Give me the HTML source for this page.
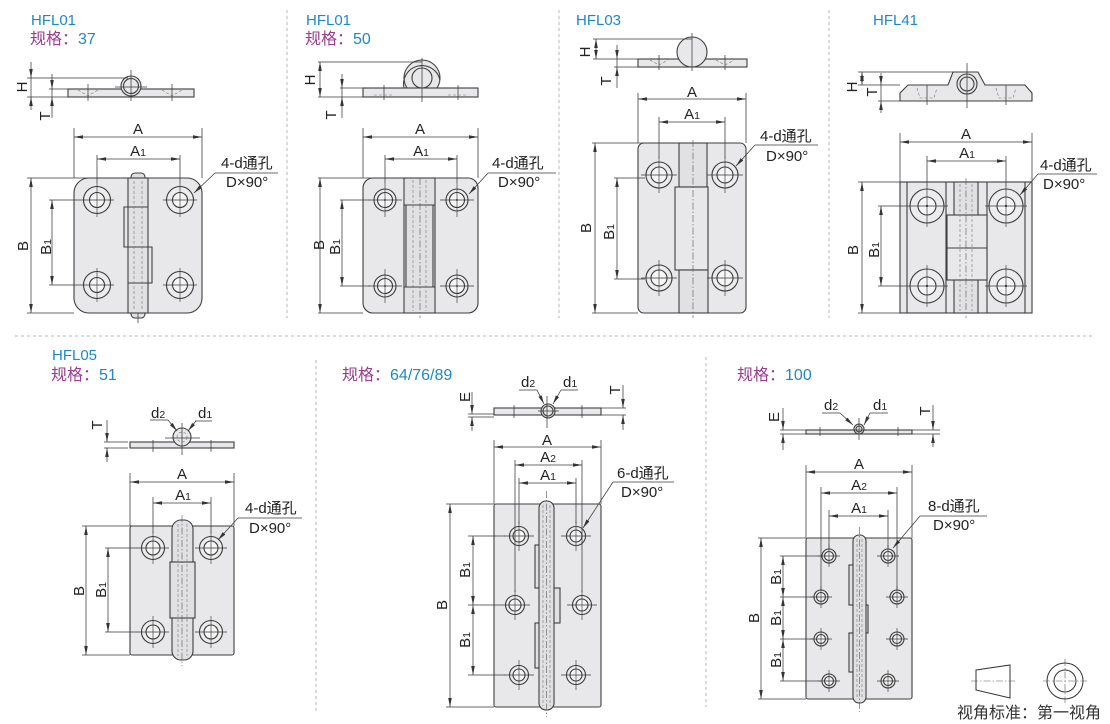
<!DOCTYPE html>
<html><head><meta charset="utf-8"><style>
html,body{margin:0;padding:0;background:#fff;}
svg{display:block}
text{font-family:"Liberation Sans","Noto Sans CJK SC",sans-serif;fill:#222;}
.o{fill:#e8e8ea;stroke:#3e3e3e;stroke-width:1.1}
.k{fill:#e1e1e4;stroke:#3e3e3e;stroke-width:1.1}
.s{fill:none;stroke:#3e3e3e;stroke-width:1.1}
.l{fill:none;stroke:#3a3a3a;stroke-width:.75}
.d{fill:none;stroke:#3a3a3a;stroke-width:.75;marker-start:url(#a);marker-end:url(#a)}
.e{fill:none;stroke:#3a3a3a;stroke-width:.75;marker-end:url(#a)}
.c{fill:none;stroke:#555;stroke-width:.6;stroke-dasharray:7 2 1.5 2}
.ds{fill:none;stroke:#777;stroke-width:.6;stroke-dasharray:3 2}
.dv{fill:none;stroke:#b5b5b5;stroke-width:1;stroke-dasharray:3 3}
.hf{fill:#ececee;stroke:#3a3a3a;stroke-width:1.1}
.hi{fill:#f6f6f7;stroke:#3a3a3a;stroke-width:1.1}
.cl{stroke:#3a3a3a;stroke-width:.65;fill:none}
.t{font-size:15px}
.sb{font-size:10.5px}
.blue{fill:#1e88c7}
.pur{fill:#9a3b8f}
</style></head><body>
<svg width="1110" height="724" viewBox="0 0 1110 724" xmlns="http://www.w3.org/2000/svg">
<defs>
<marker id="a" viewBox="0 0 10 4" refX="10" refY="2" markerWidth="9" markerHeight="3.6" markerUnits="userSpaceOnUse" orient="auto-start-reverse"><path d="M0,0L10,2L0,4z" fill="#333"/></marker>
<g id="h1"><circle r="13.5" class="hf"/><circle r="7.5" class="hi"/><path d="M-17,0H17M0,-17V17" class="cl"/></g>
<g id="h2"><circle r="11" class="hf"/><circle r="7.5" class="hi"/><circle r="1" fill="#444"/><path d="M-17,0H17M0,-17V17" class="cl"/></g>
<g id="h3"><circle r="13" class="hf"/><circle r="8" class="hi"/><path d="M-18,0H18M0,-18V18" class="cl"/></g>
<g id="h4"><circle r="17" class="hf"/><circle r="9" class="hi"/><circle r="1.2" fill="#444"/><path d="M-21,0H21M0,-21V21" class="cl"/></g>
<g id="h5"><circle r="11.5" class="hf"/><circle r="7" class="hi"/><path d="M-16,0H16M0,-16V16" class="cl"/></g>
<g id="h6"><circle r="9.5" class="hf"/><circle r="6" class="hi"/><path d="M-15,0H15M0,-15V15" class="cl"/></g>
<g id="h7"><circle r="7" class="hf"/><circle r="4.5" class="hi"/><path d="M-11,0H11M0,-11V11" class="cl"/></g>
</defs>

<!-- dividers -->
<path d="M287,10V318M559,10V318M829,10V318M15,336H1095M316,360V712M706,357V707" class="dv"/>

<!-- ===== Panel 1 ===== -->
<text x="31" y="25" class="blue" font-size="15">HFL01</text>
<text x="30" y="44" font-size="16"><tspan class="pur">规格：</tspan><tspan class="blue">37</tspan></text>
<!-- side -->
<rect x="68" y="89" width="126" height="8" class="o"/>
<circle cx="131" cy="86" r="10" class="o"/>
<circle cx="131" cy="86" r="7.5" class="s"/>
<path d="M115,87H147M131,70V101M88,84V101M172,84V101" class="l"/>
<path d="M78,90L88,96L98,90M162,90L172,96L182,90" class="ds"/>
<path d="M27,78H128M27,97H68M49,89H68" class="l"/>
<path d="M31,62V78" class="e"/><path d="M31,110V97" class="e"/><path d="M31,78V97" class="l"/>
<path d="M52,74V89" class="e"/><path d="M52,118V97" class="e"/><path d="M52,89V97" class="l"/>
<text transform="translate(27,87) rotate(-90)" text-anchor="middle" class="t">H</text>
<text transform="translate(50,116) rotate(-90)" text-anchor="middle" class="t">T</text>
<!-- front -->
<rect x="74" y="178" width="128" height="135" rx="15" class="o"/>
<rect x="131" y="173" width="14" height="10" rx="4" class="k"/>
<rect x="131" y="308" width="14" height="10" rx="4" class="k"/>
<rect x="128" y="178" width="20" height="135" class="k"/>
<path d="M128,207H124V247H128M148,247H152V283H148M128,207H148M128,247H148M128,283H148" class="s"/>
<path d="M134,181V310M142,181V310" class="ds"/>
<path d="M138,313V323" class="l"/>
<use href="#h1" x="97" y="200"/><use href="#h1" x="180" y="200"/>
<use href="#h1" x="97" y="285"/><use href="#h1" x="180" y="285"/>
<path d="M74,128V178M202,128V178M97,155V183M180,155V183M27,178H128M27,313H74M49,200H80M49,285H80" class="l"/>
<path d="M74,137H202" class="d"/><path d="M97,159H180" class="d"/>
<path d="M31,178V313" class="d"/><path d="M52,200V285" class="d"/>
<text x="138" y="134" text-anchor="middle" class="t">A</text>
<text x="138" y="156" text-anchor="middle" class="t">A<tspan class="sb">1</tspan></text>
<text transform="translate(28,246) rotate(-90)" text-anchor="middle" class="t">B</text>
<text transform="translate(51,247) rotate(-90)" text-anchor="middle" class="t">B<tspan class="sb">1</tspan></text>
<text x="221" y="168" class="t">4-d通孔</text>
<text x="226" y="187" class="t">D×90°</text>
<path d="M215,173H278" class="l"/><path d="M215,173L194,193" class="e"/>

<!-- ===== Panel 2 ===== -->
<text x="306" y="25" class="blue" font-size="15">HFL01</text>
<text x="305" y="44" font-size="16"><tspan class="pur">规格：</tspan><tspan class="blue">50</tspan></text>
<circle cx="422" cy="78" r="18" class="o"/>
<rect x="363" y="88" width="115" height="9" class="o"/>
<path d="M404,88A18,18 0 0 1 440,80" class="s"/>
<circle cx="422" cy="78" r="10" class="o"/>
<path d="M422,58V102M384,85V100M458,85V100" class="l"/>
<path d="M374,95H394M448,95H468" class="ds"/>
<path d="M318,62H422M318,97H363M340,88H363" class="l"/>
<path d="M320,62V97" class="d"/>
<path d="M342,74V88" class="e"/><path d="M342,118V97" class="e"/><path d="M342,88V97" class="l"/>
<text transform="translate(315,80) rotate(-90)" text-anchor="middle" class="t">H</text>
<text transform="translate(336,115) rotate(-90)" text-anchor="middle" class="t">T</text>
<rect x="363" y="178" width="115" height="135" rx="10" class="o"/>
<rect x="404" y="178" width="31" height="135" class="k"/>
<path d="M404,205H435M404,287H435M406,205V287M433,205V287" class="s"/>
<path d="M413,180V311M426,180V311" class="ds"/>
<path d="M420,178V318" class="c"/>
<use href="#h2" x="385" y="200"/><use href="#h2" x="457" y="200"/>
<use href="#h2" x="385" y="286"/><use href="#h2" x="457" y="286"/>
<path d="M363,128V178M478,128V178M385,155V183M457,155V183M318,178H404M318,313H363M340,200H370M340,286H370" class="l"/>
<path d="M363,137H478" class="d"/><path d="M385,159H457" class="d"/>
<path d="M320,178V313" class="d"/><path d="M342,200V286" class="d"/>
<text x="420" y="134" text-anchor="middle" class="t">A</text>
<text x="421" y="156" text-anchor="middle" class="t">A<tspan class="sb">1</tspan></text>
<text transform="translate(324,245) rotate(-90)" text-anchor="middle" class="t">B</text>
<text transform="translate(340,247) rotate(-90)" text-anchor="middle" class="t">B<tspan class="sb">1</tspan></text>
<text x="492" y="168" class="t">4-d通孔</text>
<text x="498" y="187" class="t">D×90°</text>
<path d="M488,173H556" class="l"/><path d="M488,173L469,194" class="e"/>

<!-- ===== Panel 3 ===== -->
<text x="576" y="25" class="blue" font-size="15">HFL03</text>
<rect x="638" y="59" width="109" height="8" class="o"/>
<circle cx="692" cy="52" r="15" class="o"/>
<path d="M692,33V71M659,55V70M725,55V70" class="l"/>
<path d="M650,60L659,65L668,60M716,60L725,65L734,60" class="ds"/>
<path d="M593,39H692M593,59H638M614,67H638" class="l"/>
<path d="M596,39V59" class="d"/>
<path d="M617,45V59" class="e"/><path d="M617,88V67" class="e"/><path d="M617,59V67" class="l"/>
<text transform="translate(590,52) rotate(-90)" text-anchor="middle" class="t">H</text>
<text transform="translate(611,81) rotate(-90)" text-anchor="middle" class="t">T</text>
<rect x="638" y="143" width="108" height="170" rx="6" class="o"/>
<rect x="679" y="143" width="28" height="44" class="k"/>
<rect x="675" y="187" width="33" height="83" class="o"/>
<rect x="679" y="270" width="29" height="43" class="k"/>
<path d="M693,140V318" class="c"/>
<use href="#h3" x="659" y="175"/><use href="#h3" x="725" y="175"/>
<use href="#h3" x="659" y="278"/><use href="#h3" x="725" y="278"/>
<path d="M638,93V143M746,93V143M659,117V158M725,117V158M592,143H679M592,313H638M614,178H645M614,279H645" class="l"/>
<path d="M638,99H746" class="d"/><path d="M659,122H725" class="d"/>
<path d="M595,143V313" class="d"/><path d="M617,178V279" class="d"/>
<text x="692" y="97" text-anchor="middle" class="t">A</text>
<text x="692" y="119" text-anchor="middle" class="t">A<tspan class="sb">1</tspan></text>
<text transform="translate(591,228) rotate(-90)" text-anchor="middle" class="t">B</text>
<text transform="translate(614,232) rotate(-90)" text-anchor="middle" class="t">B<tspan class="sb">1</tspan></text>
<text x="760" y="141" class="t">4-d通孔</text>
<text x="766" y="161" class="t">D×90°</text>
<path d="M755,145H818" class="l"/><path d="M755,145L736,166" class="e"/>

<!-- ===== Panel 4 ===== -->
<text x="873" y="25" class="blue" font-size="15">HFL41</text>
<polygon points="900,101 900,93 908,85 948,85 953,72 978,72 985,85 1025,85 1032,93 1032,101" class="o"/>
<circle cx="967" cy="84" r="10" class="o"/>
<circle cx="967" cy="84" r="7" class="s"/>
<path d="M967,63V108M927,85V105M1006,85V105" class="l"/>
<path d="M917,88L920,98H934L937,88M996,88L999,98H1013L1016,88" class="ds"/>
<path d="M858,72H955M858,85H900M878,101H900" class="l"/>
<path d="M862,72V85" class="d"/>
<path d="M881,73V85" class="e"/><path d="M881,113V101" class="e"/><path d="M881,85V101" class="l"/>
<text transform="translate(857,87) rotate(-90)" text-anchor="middle" class="t">H</text>
<text transform="translate(877,92) rotate(-90)" text-anchor="middle" class="t">T</text>
<rect x="900" y="182" width="132" height="131" class="o"/>
<path d="M907,182V313M946,182V313M987,182V313M1025,182V313" class="s"/>
<rect x="954" y="182" width="24" height="131" class="k"/>
<rect x="947" y="215" width="40" height="65" class="o"/>
<path d="M947,248H987" class="s"/>
<path d="M960,184V311M972,184V311" class="ds"/>
<path d="M966,178V318" class="c"/>
<use href="#h4" x="927" y="206"/><use href="#h4" x="1006" y="206"/>
<use href="#h4" x="927" y="286"/><use href="#h4" x="1006" y="286"/>
<path d="M900,133V182M1032,133V182M927,156V186M1006,156V186M858,182H954M858,313H900M878,206H906M878,286H906" class="l"/>
<path d="M900,142H1032" class="d"/><path d="M927,161H1006" class="d"/>
<path d="M862,182V313" class="d"/><path d="M881,206V286" class="d"/>
<text x="966" y="139" text-anchor="middle" class="t">A</text>
<text x="967" y="158" text-anchor="middle" class="t">A<tspan class="sb">1</tspan></text>
<text transform="translate(858,250) rotate(-90)" text-anchor="middle" class="t">B</text>
<text transform="translate(879,250) rotate(-90)" text-anchor="middle" class="t">B<tspan class="sb">1</tspan></text>
<text x="1040" y="170" class="t">4-d通孔</text>
<text x="1043" y="189" class="t">D×90°</text>
<path d="M1038,174H1097" class="l"/><path d="M1038,174L1020,195" class="e"/>

<!-- ===== Panel 5 ===== -->
<text x="52" y="360" class="blue" font-size="15">HFL05</text>
<text x="51" y="380" font-size="16"><tspan class="pur">规格：</tspan><tspan class="blue">51</tspan></text>
<rect x="130" y="442" width="104" height="6" class="o"/>
<circle cx="182" cy="437" r="9" class="o"/>
<circle cx="182" cy="437" r="5" class="ds"/>
<path d="M165,438H200M182,423V455M153,440V452M211,440V452" class="l"/>
<text x="151" y="418" class="t">d<tspan class="sb">2</tspan></text>
<text x="198" y="418" class="t">d<tspan class="sb">1</tspan></text>
<path d="M150,420H168" class="l"/><path d="M168,420L177,431" class="e"/>
<path d="M195,421H212" class="l"/><path d="M196,421L188,431" class="e"/>
<path d="M104,442H128M104,448H128" class="l"/>
<path d="M107,420V442" class="e"/><path d="M107,462V448" class="e"/>
<text transform="translate(102,425) rotate(-90)" text-anchor="middle" class="t">T</text>
<rect x="130" y="526" width="104" height="129" rx="2" class="o"/>
<rect x="172" y="520" width="21" height="140" rx="9" class="k"/>
<rect x="170" y="562" width="25" height="56" class="k"/>
<path d="M178,524V656M187,524V656" class="ds"/>
<path d="M182,515V666" class="c"/>
<use href="#h5" x="153" y="548"/><use href="#h5" x="211" y="548"/>
<use href="#h5" x="153" y="632"/><use href="#h5" x="211" y="632"/>
<path d="M130,473V526M234,473V526M153,497V533M211,497V533M82,526H172M82,655H130M105,548H138M105,632H138" class="l"/>
<path d="M130,482H234" class="d"/><path d="M153,503H211" class="d"/>
<path d="M86,526V655" class="d"/><path d="M108,548V632" class="d"/>
<text x="182" y="479" text-anchor="middle" class="t">A</text>
<text x="183" y="500" text-anchor="middle" class="t">A<tspan class="sb">1</tspan></text>
<text transform="translate(84,591) rotate(-90)" text-anchor="middle" class="t">B</text>
<text transform="translate(106,590) rotate(-90)" text-anchor="middle" class="t">B<tspan class="sb">1</tspan></text>
<text x="245" y="513" class="t">4-d通孔</text>
<text x="249" y="533" class="t">D×90°</text>
<path d="M238,518H302" class="l"/><path d="M238,518L218,540" class="e"/>

<!-- ===== Panel 6 ===== -->
<text x="342" y="380" font-size="16"><tspan class="pur">规格：</tspan><tspan class="blue">64/76/89</tspan></text>
<rect x="494" y="408" width="107" height="7" class="o"/>
<circle cx="548" cy="411" r="7" class="o"/>
<circle cx="548" cy="411" r="5" class="s"/>
<path d="M538,411H559M547,396V428M514,405V418M582,405V418" class="l"/>
<text x="521" y="387" class="t">d<tspan class="sb">2</tspan></text>
<text x="563" y="387" class="t">d<tspan class="sb">1</tspan></text>
<path d="M519,390H537" class="l"/><path d="M537,390L544,404" class="e"/>
<path d="M561,390H578" class="l"/><path d="M561,390L553,404" class="e"/>
<path d="M468,414H494M468,417H494" class="l"/>
<path d="M472,392V414" class="e"/><path d="M472,431V417" class="e"/>
<text transform="translate(470,397) rotate(-90)" text-anchor="middle" class="t">E</text>
<path d="M601,408H626M601,415H626" class="l"/>
<path d="M623,385V408" class="e"/><path d="M623,430V415" class="e"/>
<text transform="translate(620,390) rotate(-90)" text-anchor="middle" class="t">T</text>
<rect x="494" y="504" width="107" height="203" rx="2" class="o"/>
<rect x="535" y="545" width="8" height="43" class="k"/>
<rect x="535" y="623" width="8" height="45" class="k"/>
<rect x="551" y="588" width="9" height="35" class="k"/>
<rect x="539" y="501" width="15" height="209" rx="7" class="k"/>
<path d="M543,505V706M550,505V706" class="ds"/>
<path d="M546.5,491V717" class="c"/>
<use href="#h6" x="519" y="536"/><use href="#h6" x="576" y="536"/>
<use href="#h6" x="515" y="605"/><use href="#h6" x="582" y="605"/>
<use href="#h6" x="519" y="675"/><use href="#h6" x="576" y="675"/>
<path d="M494,440V504M601,440V504M515,460V592M582,460V592M519,478V524M576,478V524M446,504H494M446,707H494M468,536H505M468,605H500M468,675H505" class="l"/>
<path d="M494,447H601" class="d"/><path d="M515,465H582" class="d"/><path d="M519,483H576" class="d"/>
<path d="M450,504V707" class="d"/><path d="M473,536V605" class="d"/><path d="M473,605V675" class="d"/>
<text x="547" y="445" text-anchor="middle" class="t">A</text>
<text x="548" y="462" text-anchor="middle" class="t">A<tspan class="sb">2</tspan></text>
<text x="548" y="480" text-anchor="middle" class="t">A<tspan class="sb">1</tspan></text>
<text transform="translate(447,605) rotate(-90)" text-anchor="middle" class="t">B</text>
<text transform="translate(470,570) rotate(-90)" text-anchor="middle" class="t">B<tspan class="sb">1</tspan></text>
<text transform="translate(470,640) rotate(-90)" text-anchor="middle" class="t">B<tspan class="sb">1</tspan></text>
<text x="617" y="478" class="t">6-d通孔</text>
<text x="621" y="497" class="t">D×90°</text>
<path d="M613,482H674" class="l"/><path d="M613,482L583,528" class="e"/>

<!-- ===== Panel 7 ===== -->
<text x="737" y="380" font-size="16"><tspan class="pur">规格：</tspan><tspan class="blue">100</tspan></text>
<rect x="806" y="430" width="106" height="4" class="o"/>
<circle cx="859" cy="429" r="5" class="o"/>
<circle cx="859" cy="429" r="3" class="s"/>
<path d="M851,430H867M859,418V440M820,427V436M898,427V436" class="l"/>
<text x="824" y="410" class="t">d<tspan class="sb">2</tspan></text>
<text x="873" y="410" class="t">d<tspan class="sb">1</tspan></text>
<path d="M822,413H840" class="l"/><path d="M840,413L853,425" class="e"/>
<path d="M870,413H888" class="l"/><path d="M870,413L864,425" class="e"/>
<path d="M780,430H806M780,434H806" class="l"/>
<path d="M783,408V430" class="e"/><path d="M783,450V434" class="e"/>
<text transform="translate(779,417) rotate(-90)" text-anchor="middle" class="t">E</text>
<path d="M912,430H940M912,434H940" class="l"/>
<path d="M933,405V430" class="e"/><path d="M933,447V434" class="e"/>
<text transform="translate(930,411) rotate(-90)" text-anchor="middle" class="t">T</text>
<rect x="806" y="538" width="106" height="161" rx="2" class="o"/>
<rect x="849" y="565" width="6" height="40" class="k"/>
<rect x="849" y="633" width="6" height="39" class="k"/>
<rect x="863" y="605" width="5" height="28" class="k"/>
<rect x="853" y="535" width="13" height="168" rx="6" class="k"/>
<path d="M857,539V699M862,539V699" class="ds"/>
<path d="M859.5,527V712" class="c"/>
<use href="#h7" x="829" y="556"/><use href="#h7" x="888" y="556"/>
<use href="#h7" x="821" y="597"/><use href="#h7" x="897" y="597"/>
<use href="#h7" x="821" y="639"/><use href="#h7" x="897" y="639"/>
<use href="#h7" x="829" y="681"/><use href="#h7" x="888" y="681"/>
<path d="M806,465V538M912,465V538M821,487V590M897,487V590M829,510V549M888,510V549M758,538H806M758,699H806M780,556H822M780,597H814M780,639H814M780,681H822" class="l"/>
<path d="M806,472H912" class="d"/><path d="M821,493H897" class="d"/><path d="M829,516H888" class="d"/>
<path d="M761,538V699" class="d"/><path d="M783,556V597" class="d"/><path d="M783,597V639" class="d"/><path d="M783,639V681" class="d"/>
<text x="859" y="469" text-anchor="middle" class="t">A</text>
<text x="859" y="490" text-anchor="middle" class="t">A<tspan class="sb">2</tspan></text>
<text x="859" y="513" text-anchor="middle" class="t">A<tspan class="sb">1</tspan></text>
<text transform="translate(759,618) rotate(-90)" text-anchor="middle" class="t">B</text>
<text transform="translate(781,577) rotate(-90)" text-anchor="middle" class="t">B<tspan class="sb">1</tspan></text>
<text transform="translate(781,618) rotate(-90)" text-anchor="middle" class="t">B<tspan class="sb">1</tspan></text>
<text transform="translate(781,660) rotate(-90)" text-anchor="middle" class="t">B<tspan class="sb">1</tspan></text>
<text x="928" y="511" class="t">8-d通孔</text>
<text x="933" y="530" class="t">D×90°</text>
<path d="M920,516H987" class="l"/><path d="M920,516L893,548" class="e"/>

<!-- legend -->
<polygon points="976,670 1010,665 1010,698 976,690" fill="#fff" stroke="#333" stroke-width="1"/>
<path d="M971,681H1015" class="c"/>
<circle cx="1065" cy="681" r="18" fill="#fff" stroke="#333" stroke-width="1"/>
<circle cx="1065" cy="681" r="11" fill="none" stroke="#333" stroke-width="1"/>
<path d="M1043,681H1087M1065,659V703" class="c"/>
<text x="957" y="718" font-size="16" style="fill:#333">视角标准：第一视角</text>
</svg>
</body></html>
